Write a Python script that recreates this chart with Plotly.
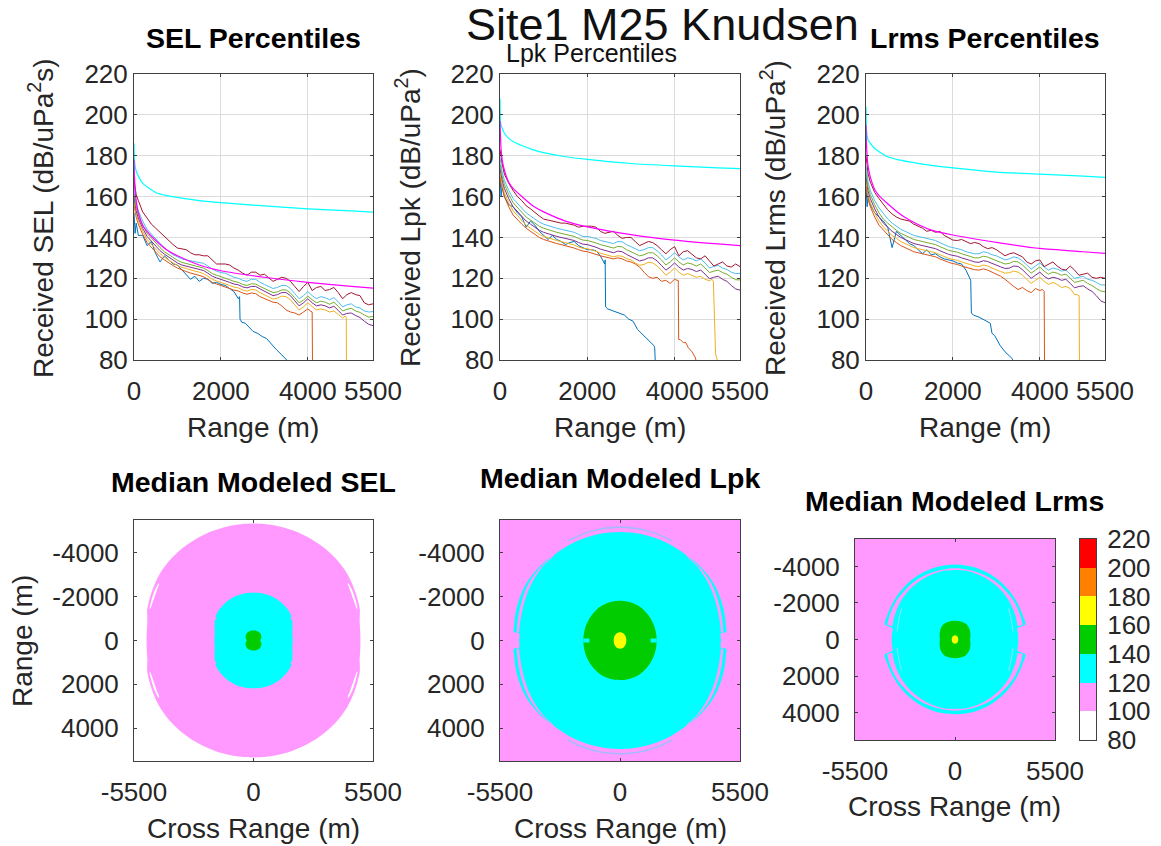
import math
import plotly.graph_objects as go

W, H = 1161, 846
FONT = "Liberation Sans"
TICK_FONT = 26
LAB_FONT = 28

# ---------- percentile panels: range grid (m) ----------
R = [0, 25, 50, 100, 200, 300, 400, 500, 600, 700,
     800, 900, 1000, 1100, 1200, 1300, 1400, 1500, 1600, 1700,
     1800, 1900, 2000, 2100, 2200, 2300, 2400, 2500, 2600, 2700,
     2800, 2900, 3000, 3100, 3200, 3300, 3400, 3500, 3600, 3700,
     3800, 3900, 4000, 4100, 4200, 4300, 4400, 4500, 4600, 4700,
     4800, 4900, 5000, 5100, 5200, 5300, 5400, 5500]
R_SMOOTH = [0, 10, 25, 50, 100, 200, 300, 500, 750, 1000, 1500, 2000, 3000, 4000, 5000, 5500]

# SEL
SEL_RED = [168,164,161,158,152.5,149.5,146.5,144.5,142.5,140.5,
           138,136.5,134.8,134.5,134,132.5,131.5,131.5,131,131,
           129,127,127,127,126.5,125,124,122.5,121.5,123,
           123,121.5,122,120,118.5,119.5,120.5,120,118.5,116,
           113.5,116,118,114,115.5,116,114,114.5,115.5,113,
           110,112,113,112,111.5,108,107,107.5]
SEL_SKY = [165,160,157,153,148,144,141.5,139,137,135,
           133,131.5,130.5,129.5,129,128.5,128,127.5,127.3,126,
           124.5,123.5,122.8,122.5,121.5,120.5,120,119,118.5,119.5,
           119.5,118,117,116,115,115.5,116.5,116.5,115,112.5,
           110,111.5,113.5,111.5,110,111,110.5,109.5,110.5,108.5,
           106,107,107.5,106,105.5,104,103.5,103.7]
SEL_GREEN = [162,158,155,151,146,142,139.5,137,135,133,
             131.5,130,128.8,127.8,127.3,126.5,126,125.5,125,123.8,
             122.3,121.5,120.8,120.3,119.3,118.5,118,117,116.5,117.3,
             117.2,116,115,113.8,113,113.3,114.3,114.3,112.8,110.5,
             108,109.3,111.3,109.5,108,108.8,108.3,107.3,108.3,106.3,
             104,104.8,105.3,104,103.3,102,101,101.3]
SEL_PURPLE = [160,156,153,149.5,144.5,140.5,138,135.5,133.5,131.8,
              130.3,129,127.5,126.5,126,125.3,124.8,124.2,123.8,122.5,
              121,120.2,119.5,119,118,117.2,116.8,115.8,115.3,116,
              116,114.8,113.7,112.5,111.5,112,113,113,111.5,109,
              106.5,108,110,108,106.5,107,106.5,105.5,106.3,104.3,
              102,102.8,103,101.8,100.8,99,97.5,96.8]
SEL_YELLOW = [158,154,151.5,148,143,139,136.5,134,132,130.3,
              128.8,127.5,126.3,125.3,124.8,124,123.5,123,122.3,121,
              119.5,118.7,118,117.5,116.5,115.7,115.3,114.3,113.7,114.5,
              114.3,113,112,110.8,109.8,110.3,111.3,111,109.5,107,
              104.5,106,108,106.2,104.5,105,104.5,103.5,104,102.3,
              100.5]
SEL_YELLOW_TAIL_R = [4860, 4885, 4890]
SEL_YELLOW_TAIL = [101.5, 101, 70]
SEL_ORANGE = [156,152,150,146.5,141.5,137.5,135,132.5,130.5,129,
              127.5,126.2,125,124,123.3,122.6,122,121.5,120.8,119.5,
              118,117.2,116.5,116,115,114.2,113.8,112.8,112.2,112.8,
              112.5,111,110,109,108.3,108,106.5,104.5,103.5,103,
              102,103.5,105]
SEL_ORANGE_TAIL_R = [4060, 4100, 4110]
SEL_ORANGE_TAIL = [104, 103.5, 70]
SEL_BLUE = [152,142,147,141,141,136,138,132,128,131,
            129,127,126.5,124,122,119.5,121,118.5,120,119.5,
            117.5,118,117,116.5,115,113.5,110]
SEL_BLUE_TAIL_R = [2430,2440,2480,2560,2640,2740,2850,2950,3050,3150,3280,3400,3530,3560]
SEL_BLUE_TAIL = [111,100,98.5,98,96,94,93,91.5,90.5,88,85,82.5,80,79]
SEL_CYAN = [186,178,175,172.5,170,166.5,164.8,162,160.5,159.6,158,157,155.4,154,153,152.4]
SEL_MAGENTA = [178,170,164,158,152,146,143,138.5,134,131,126.5,123.7,120.5,118,116,115.2]

# Lpk
LPK_RED = [183,178,176,171,166.5,163,160,158,155.5,154,
           152,150.5,149,148.5,148,147.5,147,147,146.5,146,
           145,145.5,145.5,145.5,145,143,142,142.5,143,141,
           139.5,140,140,138,136,137,138,137.5,136,134,
           132,134,135.5,131,133,133.5,131.5,130,129.5,131,
           128.5,126,127,128,126,125.5,127,125.7]
LPK_SKY = [179,175,172,168,163,159,156.5,154,152,150.5,
           149,147.5,146.5,145.8,145,144.5,144,143.5,143,142.5,
           141.5,140.5,140.5,140,139.5,138.5,138,137.5,137,138,
           137.8,136.5,135.5,134.5,133.5,134,135,135,133.5,131.5,
           129,130.5,132.5,130.5,129,130,129.5,128.5,129.5,127.5,
           125,125.8,126.3,125,124.3,123,122.3,122.4]
LPK_GREEN = [176,172,170,166,161,157,154.5,152,150,148.5,
             147,145.5,144.5,143.8,143,142.5,142,141.5,141,140.5,
             139.5,138.7,138.5,138,137.3,136.5,136,135.3,134.8,135.6,
             135.4,134,133,132,131,131.5,132.5,132.5,131,129,
             126.5,128,130,128,126.5,127.5,127,126,127,125,
             122.8,123.5,124,122.8,122,120.5,119.3,119.2]
LPK_PURPLE = [174,170,168,164,159,155,152.5,150,148,146.5,
              145,143.5,142.5,141.8,141,140.5,140,139.5,139,138.5,
              137.5,136.7,136.5,136,135.2,134.3,133.8,133,132.5,133.3,
              133,131.7,130.6,129.5,128.5,129,130,130,128.5,126.3,
              124,125.5,127.5,125.5,124,124.8,124.3,123.3,124,122,
              119.8,120.5,121,119.5,118.5,116.5,114.8,114.2]
LPK_YELLOW = [172,168,166,162,157,153,150.5,148,146,144.5,
              143,141.5,140.5,139.8,139,138.5,138,137.5,137,136.3,
              135.3,134.7,134.5,134,133.2,132.3,131.8,131,130.5,131,
              130.8,129.7,129,127.5,126.3,126.8,127.8,127.5,126,124,
              121.5,123,125,123,121.5,122.3,121.5,120.5,121,119.5,
              118.8]
LPK_YELLOW_TAIL_R = [4860, 4890, 4940, 4990]
LPK_YELLOW_TAIL = [119.5, 118.5, 83, 79]
LPK_ORANGE = [170,166,164,160,155,151,149,146.5,144.5,143,
              141.5,140,139,138.3,137.5,137,136.5,136,135.5,134.8,
              134,133.3,133,132.5,131.7,131,130.5,130,129.5,130,
              129.5,128.5,128,127,125.5,123,120.8,120,120.5,118.5,
              119,117.5,119.5]
LPK_ORANGE_TAIL_R = [4060,4085,4095,4130,4200,4260,4315,4400,4470,4520]
LPK_ORANGE_TAIL = [119,119,90,90,88.5,88.5,86,84,81.5,78]
LPK_BLUE = [170,160,165,160,156,155,152,150,145,148,
            146,143,141,139,141,139,138,136.5,137.5,138,
            136,135,134,134,133.5,131,127]
LPK_BLUE_TAIL_R = [2410,2420,2470,2600,2750,2850,2950,3050,3150,3250,3400,3530,3545,3560]
LPK_BLUE_TAIL = [129,106,105,104,102.5,102,100,99,95,93,90,87,86,78]
LPK_CYAN = [208,197,195,193.5,191,188.5,187,185,183,181.5,179.5,178.2,176.2,175,174,173.7]
LPK_MAGENTA = [197,190,183,178,173,167,164,160,155.5,152.5,148,145.2,141.4,138.7,136.8,136]

# Lrms
LRMS_RED = [180,174,171,167,162,159,156,153.5,151.5,150,
            149,148.5,148,146.5,145.5,144.5,143,143.5,142.5,143,
            141,140,138.7,138.5,139,138,137,137.5,137,135.5,
            134.5,135,134,132.5,131,132,132.5,131.5,130.5,128,
            127,128.5,129,125.7,127,128,126,124.5,124,126,
            124,121.5,122,122.5,120.5,120,120.5,120]
LRMS_SKY = [175,170,167,163,158,154.5,151.5,149,147,145.5,
            144,143,142,141,140.5,140,139.5,139,138.5,137.5,
            136.5,135.5,135,134.5,134,133,132.5,132,132,133,
            132.5,131.5,131,130,129,129.5,130.5,130,128.5,126.5,
            124.5,126,127.5,125.5,124,125,124.5,123.5,124,122,
            120,120.5,121,119.5,119,118,116.8,116.7]
LRMS_GREEN = [172,167,164.5,161,156,152,149,147,145,143.5,
              142,141,140,139,138.5,138,137.5,137,136.5,135.5,
              134.5,133.7,133.2,132.8,132,131.2,130.7,130,130,130.8,
              130.4,129.5,128.8,127.8,127,127.3,128.3,128,126.5,124.5,
              122.5,124,125.5,123.5,122,123,122.5,121.5,122,120,
              118,118.5,119,117.5,116.5,115,113.8,113.4]
LRMS_PURPLE = [170,165,162.5,159,154,150,147,145,143,141.5,
               140,139,138,137,136.5,136,135.5,135,134.5,133.5,
               132.5,131.7,131.2,130.8,130,129.2,128.7,128,127.8,128.6,
               128.2,127.3,126.6,125.6,124.8,125,126,125.8,124.2,122,
               120,121.5,123,121,119.7,120.5,120,119,119.5,117.5,
               115.3,116,116.3,114.8,113.6,111.5,109,108]
LRMS_YELLOW = [168,163,160.5,157,152,148,145.2,143,141,139.5,
               138,137,136,135,134.5,134,133.5,133,132.5,131.5,
               130.5,129.8,129.2,128.8,128,127.2,126.7,126,125.7,126.5,
               126,125,124.3,123.3,122.5,122.7,123.5,123,121.5,119.5,
               117.5,119,120.5,118.5,117,118,117,115.5,116,115,
               112]
LRMS_YELLOW_TAIL_R = [4860, 4905, 4915]
LRMS_YELLOW_TAIL = [112, 111.5, 70]
LRMS_ORANGE = [166,161,158.5,155,150,146,143.5,141,139,137.5,
               136,135,134,133,132.5,132,131.5,131,130.5,129.5,
               128.5,127.8,127.2,126.8,126,125.3,124.8,124.2,124,124.6,
               124,123,122.2,121,119.5,117.5,116,114.5,115.5,114,
               113,115,114]
LRMS_ORANGE_TAIL_R = [4060, 4100, 4110]
LRMS_ORANGE_TAIL = [114.5, 113.5, 70]
LRMS_BLUE = [165,155,160,156,152,150,148,145,135,143,
             141,138.5,137,136,134,132,134,131.5,132,130.5,
             129.5,129,128.5,127.5,127,124,119.5]
LRMS_BLUE_TAIL_R = [2410,2425,2470,2600,2750,2860,2900,2960,3090,3200,3360,3400]
LRMS_BLUE_TAIL = [119,103,102,101,99.5,98,93,92,87,84,80.8,79]
LRMS_CYAN = [204,193.5,190,187.5,186,183.5,182,179.5,178,177,175.3,174,172,171,170,169.4]
LRMS_MAGENTA = [195,186,180,174.5,169.5,163.5,160.5,156.5,152,148.5,143.6,141.2,137.6,134.6,133,132.2]

LINE_COLORS = ["#0072BD", "#D95319", "#EDB120", "#7E2F8E", "#77AC30", "#4DBEEE", "#A2142F"]
CYAN_LINE, MAGENTA_LINE = "#00FFFF", "#FF00FF"

# ---------- map contours: first-quadrant boundary radii (m), mirrored to four quadrants ----------
PINK, CYAN, GREEN, YELLOW = "#FF99FF", "#00FFFF", "#00CC00", "#FFFF00"

SEL_DISC_T = [0, 5, 10, 16, 20, 25, 30, 35, 40, 45, 50, 55, 60, 65, 70, 75, 80, 85, 90]
SEL_DISC_R = [4920, 4930, 4960, 5090, 5130, 5180, 5230, 5280, 5300, 5320, 5330, 5335, 5340, 5340, 5340, 5340, 5340, 5340, 5340]
SEL_GAP_T = [17, 22, 27, 31]
SEL_GAP_IN = [4960, 4960, 5000, 5060]
SEL_GAP_OUT = [5010, 5050, 5090, 5080]
SEL_CY_T = [0, 5, 10, 15, 20, 25, 28, 30, 32, 36, 40, 45, 50, 55, 60, 65, 70, 75, 80, 85, 90]
SEL_CY_R = [1800, 1802, 1810, 1850, 1910, 1970, 2010, 1960, 2060, 2090, 2110, 2125, 2140, 2155, 2170, 2175, 2180, 2185, 2185, 2185, 2185]
SEL_GR_T = [0, 10, 20, 30, 45, 60, 75, 90]
SEL_GR_R = [310, 345, 385, 420, 450, 465, 465, 460]

LPK_ENV_T = [0, 4, 4.5, 8, 15, 22, 30, 37, 45, 52, 60, 67, 75, 82, 90]
LPK_ENV_R = [4630, 4630, 4880, 4900, 4950, 4985, 5020, 5010, 4990, 4945, 4940, 4945, 4950, 4950, 4950]
LPK_GAP_T = [4.5, 10, 15, 22, 30, 37, 45, 52]
LPK_GAP_IN = [4640, 4650, 4670, 4720, 4790, 4850, 4900, 4930]
LPK_GAP_OUT = [4750, 4770, 4800, 4850, 4920, 4940, 4950, 4945]
LPK_ARC_T = [62, 70, 80, 90]
LPK_ARC_R = [5130, 5150, 5170, 5175]
LPK_GR_T = [0, 7, 15, 22, 30, 37, 45, 52, 60, 67, 75, 82, 90]
LPK_GR_R = [1680, 1682, 1690, 1700, 1710, 1730, 1750, 1770, 1790, 1800, 1805, 1810, 1810]
LPK_NOTCH_X = [1400, 1680]
LPK_NOTCH_Y = [0, 0]
LPK_YE_T = [0, 15, 30, 45, 60, 75, 90]
LPK_YE_R = [290, 295, 310, 330, 350, 368, 375]

LRMS_ENV_T = [0, 5, 10, 11, 12, 20, 27, 36, 45, 52, 60, 67, 75, 82, 90]
LRMS_ENV_R = [3480, 3482, 3490, 3700, 3950, 3950, 3960, 3985, 4010, 4035, 4060, 4075, 4090, 4095, 4100]
LRMS_GAP_T = [12, 20, 30, 37, 45, 52, 60, 67, 75, 82, 90]
LRMS_GAP_IN = [3520, 3560, 3610, 3650, 3690, 3720, 3750, 3775, 3800, 3815, 3820]
LRMS_GAP_OUT = [3820, 3830, 3850, 3855, 3860, 3870, 3880, 3883, 3885, 3885, 3885]
LRMS_FAINT_T = [8, 15, 22, 30]
LRMS_FAINT_R = [3220, 3240, 3300, 3400]
LRMS_GR_T = [0, 10, 20, 30, 40, 55, 65, 75, 90]
LRMS_GR_R = [830, 860, 900, 950, 1000, 1045, 1040, 1030, 1020]
LRMS_YE_T = [0, 30, 60, 90]
LRMS_YE_R = [180, 190, 215, 230]

MAP_LIMIT = 5500
MAP_XTICKS = [-5500, 0, 5500]
MAP_XLABELS = ["-5500", "0", "5500"]
MAP_YTICKS = [-4000, -2000, 0, 2000, 4000]
MAP_YLABELS = ["-4000", "-2000", "0", "2000", "4000"]
TOP_XTICKS = [0, 2000, 4000, 5500]
TOP_YTICKS = [80, 100, 120, 140, 160, 180, 200, 220]
CB_LEVELS = [90, 110, 130, 150, 170, 190, 210]
CB_COLORS = ["#FFFFFF", PINK, CYAN, GREEN, YELLOW, "#FF8000", "#FF0000"]


def blob(theta, radius):
    ang = list(theta) + [180 - t for t in reversed(theta)] + [180 + t for t in theta] + [360 - t for t in reversed(theta)]
    rad = list(radius) + list(reversed(radius)) + list(radius) + list(reversed(radius))
    return ([r * math.cos(math.radians(a)) for a, r in zip(ang, rad)],
            [r * math.sin(math.radians(a)) for a, r in zip(ang, rad)])


def arcs(theta, r_in, r_out):
    xs, ys = [], []
    ang = list(theta) + list(reversed(theta))
    rad = list(r_out) + list(reversed(r_in))
    for sx, sy in ((1, 1), (-1, 1), (-1, -1), (1, -1)):
        xs += [sx * r * math.cos(math.radians(a)) for a, r in zip(ang, rad)] + [None]
        ys += [sy * r * math.sin(math.radians(a)) for a, r in zip(ang, rad)] + [None]
    return xs, ys


def lines4(theta, radius):
    xs, ys = [], []
    for sx, sy in ((1, 1), (-1, 1), (-1, -1), (1, -1)):
        xs += [sx * r * math.cos(math.radians(a)) for a, r in zip(theta, radius)] + [None]
        ys += [sy * r * math.sin(math.radians(a)) for a, r in zip(theta, radius)] + [None]
    return xs, ys


fig = go.Figure()
layout_axes = {}


def px_dom_x(a, b):
    return [a / W, b / W]


def px_dom_y(top, bottom):
    return [1 - bottom / H, 1 - top / H]


AX_COLOR = "#404040"
TICK_COLOR = "#262626"


def add_axes(n, xb, yb, xcfg, ycfg):
    sfx = "" if n == 1 else str(n)
    layout_axes["xaxis" + sfx] = dict(domain=px_dom_x(*xb), anchor="y" + sfx, showline=True, mirror="ticks",
                                      linecolor=AX_COLOR, linewidth=1, ticks="inside", ticklen=3, tickcolor=AX_COLOR,
                                      tickfont=dict(family=FONT, size=TICK_FONT, color=TICK_COLOR), zeroline=False, **xcfg)
    layout_axes["yaxis" + sfx] = dict(domain=px_dom_y(*yb), anchor="x" + sfx, showline=True, mirror="ticks",
                                      linecolor=AX_COLOR, linewidth=1, ticks="inside", ticklen=3, tickcolor=AX_COLOR,
                                      tickfont=dict(family=FONT, size=TICK_FONT, color=TICK_COLOR), zeroline=False, **ycfg)
    return ("x" + sfx, "y" + sfx)


TOP_PANELS = [
    ((134, 373), [(SEL_BLUE, SEL_BLUE_TAIL_R, SEL_BLUE_TAIL), (SEL_ORANGE, SEL_ORANGE_TAIL_R, SEL_ORANGE_TAIL),
                  (SEL_YELLOW, SEL_YELLOW_TAIL_R, SEL_YELLOW_TAIL), (SEL_PURPLE, [], []), (SEL_GREEN, [], []),
                  (SEL_SKY, [], []), (SEL_RED, [], [])], SEL_CYAN, SEL_MAGENTA),
    ((500, 740), [(LPK_BLUE, LPK_BLUE_TAIL_R, LPK_BLUE_TAIL), (LPK_ORANGE, LPK_ORANGE_TAIL_R, LPK_ORANGE_TAIL),
                  (LPK_YELLOW, LPK_YELLOW_TAIL_R, LPK_YELLOW_TAIL), (LPK_PURPLE, [], []), (LPK_GREEN, [], []),
                  (LPK_SKY, [], []), (LPK_RED, [], [])], LPK_CYAN, LPK_MAGENTA),
    ((866, 1105), [(LRMS_BLUE, LRMS_BLUE_TAIL_R, LRMS_BLUE_TAIL), (LRMS_ORANGE, LRMS_ORANGE_TAIL_R, LRMS_ORANGE_TAIL),
                   (LRMS_YELLOW, LRMS_YELLOW_TAIL_R, LRMS_YELLOW_TAIL), (LRMS_PURPLE, [], []), (LRMS_GREEN, [], []),
                   (LRMS_SKY, [], []), (LRMS_RED, [], [])], LRMS_CYAN, LRMS_MAGENTA),
]

n = 0
for xb, series, cy, mg in TOP_PANELS:
    n += 1
    xa, ya = add_axes(n, xb, (74, 360),
                      dict(range=[0, 5500], tickvals=TOP_XTICKS, showgrid=True, gridcolor="#DCDCDC", gridwidth=1,
                           ticklabelstandoff=8),
                      dict(range=[80, 220], tickvals=TOP_YTICKS, showgrid=True, gridcolor="#DCDCDC", gridwidth=1))
    for (vals, tr, tv), col in zip(series, LINE_COLORS):
        fig.add_trace(go.Scatter(x=R[:len(vals)] + tr, y=vals + tv, mode="lines", xaxis=xa, yaxis=ya,
                                 line=dict(color=col, width=1), showlegend=False, hoverinfo="skip"))
    fig.add_trace(go.Scatter(x=R_SMOOTH, y=cy, mode="lines", xaxis=xa, yaxis=ya,
                             line=dict(color=CYAN_LINE, width=1.2, shape="spline", smoothing=0.6),
                             showlegend=False, hoverinfo="skip"))
    fig.add_trace(go.Scatter(x=R_SMOOTH, y=mg, mode="lines", xaxis=xa, yaxis=ya,
                             line=dict(color=MAGENTA_LINE, width=1.2, shape="spline", smoothing=0.6),
                             showlegend=False, hoverinfo="skip"))


def fill(xy, color, xa, ya, spline=True):
    line = dict(width=0, color=color)
    if spline:
        line.update(shape="spline", smoothing=1.0)
    fig.add_trace(go.Scatter(x=xy[0], y=xy[1], mode="lines", fill="toself", fillcolor=color,
                             line=line, xaxis=xa, yaxis=ya,
                             showlegend=False, hoverinfo="skip"))


def stroke(xy, color, width, xa, ya):
    fig.add_trace(go.Scatter(x=xy[0], y=xy[1], mode="lines", line=dict(width=width, color=color, shape="spline"),
                             xaxis=xa, yaxis=ya, showlegend=False, hoverinfo="skip"))


def map_axes(n, xb, yb):
    return add_axes(n, xb, yb,
                    dict(range=[-MAP_LIMIT, MAP_LIMIT], tickvals=MAP_XTICKS, ticktext=MAP_XLABELS, showgrid=False,
                         ticklabelstandoff=8),
                    dict(range=[MAP_LIMIT, -MAP_LIMIT], tickvals=MAP_YTICKS, ticktext=MAP_YLABELS, showgrid=False,
                         ticklabelstandoff=9))


SQUARE_X = [-MAP_LIMIT, MAP_LIMIT, MAP_LIMIT, -MAP_LIMIT]
SQUARE_Y = [-MAP_LIMIT, -MAP_LIMIT, MAP_LIMIT, MAP_LIMIT]

# Map 1: SEL
xa, ya = map_axes(4, (134, 373), (520, 761))
fill(blob(SEL_DISC_T, SEL_DISC_R), PINK, xa, ya)
fill(arcs(SEL_GAP_T, SEL_GAP_IN, SEL_GAP_OUT), "#FFFFFF", xa, ya)
fill(blob(SEL_CY_T, SEL_CY_R), CYAN, xa, ya)
fill(blob(SEL_GR_T, SEL_GR_R), GREEN, xa, ya)

# Map 2: Lpk
xa, ya = map_axes(5, (500, 740), (520, 761))
fill((SQUARE_X, SQUARE_Y), PINK, xa, ya, spline=False)
fill(blob(LPK_ENV_T, LPK_ENV_R), CYAN, xa, ya)
fill(arcs(LPK_GAP_T, LPK_GAP_IN, LPK_GAP_OUT), PINK, xa, ya)
stroke(lines4(LPK_ARC_T, LPK_ARC_R), "#A8B8FF", 1.6, xa, ya)
fill(blob(LPK_GR_T, LPK_GR_R), GREEN, xa, ya)
stroke(([-v for v in LPK_NOTCH_X], LPK_NOTCH_Y), CYAN, 4, xa, ya)
stroke((LPK_NOTCH_X, LPK_NOTCH_Y), CYAN, 4, xa, ya)
fill(blob(LPK_YE_T, LPK_YE_R), YELLOW, xa, ya)

# Map 3: Lrms
xa, ya = map_axes(6, (855, 1055), (539, 740))
fill((SQUARE_X, SQUARE_Y), PINK, xa, ya, spline=False)
fill(blob(LRMS_ENV_T, LRMS_ENV_R), CYAN, xa, ya)
fill(arcs(LRMS_GAP_T, LRMS_GAP_IN, LRMS_GAP_OUT), PINK, xa, ya)
stroke(lines4(LRMS_FAINT_T, LRMS_FAINT_R), "#99DDFF", 1, xa, ya)
fill(blob(LRMS_GR_T, LRMS_GR_R), GREEN, xa, ya)
fill(blob(LRMS_YE_T, LRMS_YE_R), YELLOW, xa, ya)

# Colour bar
xa, ya = add_axes(7, (1080, 1096), (539, 740),
                  dict(range=[0, 1], tickvals=[], showgrid=False),
                  dict(range=[80, 220], tickvals=TOP_YTICKS, side="right", showgrid=False, ticklabelstandoff=5))
layout_axes["yaxis7"]["ticks"] = ""
stops = []
for i, c in enumerate(CB_COLORS):
    stops += [[i / len(CB_COLORS), c], [(i + 1) / len(CB_COLORS), c]]
fig.add_trace(go.Heatmap(x=[0.5], y=CB_LEVELS, z=[[v] for v in CB_LEVELS], zmin=80, zmax=220, colorscale=stops,
                         showscale=False, xaxis=xa, yaxis=ya, hoverinfo="skip"))

annotations = []


def label(text, cx, cy, size, bold=False, angle=0, color="#262626"):
    annotations.append(dict(text=f"<b>{text}</b>" if bold else text, x=cx / W, y=1 - cy / H, xref="paper", yref="paper",
                            xanchor="center", yanchor="middle", showarrow=False, textangle=angle,
                            font=dict(family=FONT, size=size, color=color)))


label("Site1 M25 Knudsen", 662, 24, 45, color="#111111")
label("SEL Percentiles", 253, 38, 28.5, bold=True, color="#000000")
label("Lpk Percentiles", 591, 53, 25, color="#111111")
label("Lrms Percentiles", 985, 38, 28.5, bold=True, color="#000000")
for cx in (253, 620, 985):
    label("Range (m)", cx, 427, LAB_FONT)
label("Received SEL (dB/uPa<sup>2</sup>s)", 41, 218, LAB_FONT, angle=-90)
label("Received Lpk (dB/uPa<sup>2</sup>)", 408, 218, LAB_FONT, angle=-90)
label("Received Lrms (dB/uPa<sup>2</sup>)", 773, 218, LAB_FONT, angle=-90)
label("Median Modeled SEL", 253, 482, 28.5, bold=True, color="#000000")
label("Median Modeled Lpk", 620, 478, 28.5, bold=True, color="#000000")
label("Median Modeled Lrms", 954, 501, 28.5, bold=True, color="#000000")
label("Range (m)", 22, 641, LAB_FONT, angle=-90)
label("Cross Range (m)", 253, 828, LAB_FONT)
label("Cross Range (m)", 620, 828, LAB_FONT)
label("Cross Range (m)", 954, 806, LAB_FONT)

fig.update_layout(width=W, height=H, margin=dict(l=0, r=0, t=0, b=0, pad=0, autoexpand=False),
                  paper_bgcolor="white", plot_bgcolor="white",
                  showlegend=False, annotations=annotations, font=dict(family=FONT), **layout_axes)
fig.write_html("out.html", post_script="document.body.style.margin='0';", config=dict(displayModeBar=False))
